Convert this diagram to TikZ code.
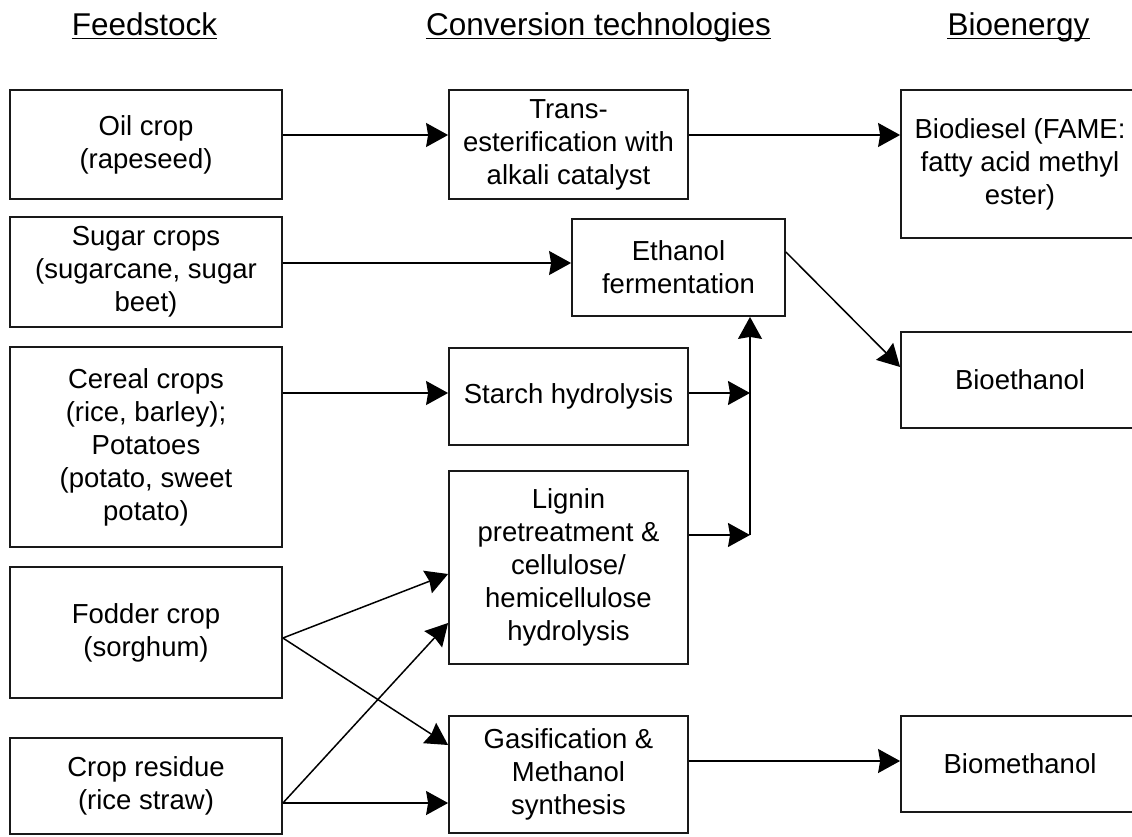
\documentclass[tikz,border=0pt]{standalone}
\usepackage{fontspec}
\setmainfont{Liberation Sans}
\usetikzlibrary{arrows.meta}
\begin{document}
\begin{tikzpicture}[x=1pt,y=-1pt,
  box/.style={draw=black!90, line width=1.8pt, align=center, inner sep=0pt,
    font=\fontsize{27.5}{33}\selectfont},
  feed/.style={box, minimum width=272pt},
  tech/.style={box, minimum width=239pt},
  prod/.style={box, minimum width=238pt},
  head/.style={inner sep=0pt, anchor=base, font=\fontsize{31.5}{36}\selectfont},
  uline/.style={line width=1.8pt},
  arr/.style={line width=1.5pt, -{Stealth[length=22pt,width=24pt,inset=2pt]}}]
\useasboundingbox (0,0) rectangle (1132,836);
\clip (0,0) rectangle (1132,836);

% column headings
\node[head] (hf) at (144.5,35) {Feedstock};
\node[head] (hc) at (598.5,35) {Conversion technologies};
\node[head] (hb) at (1018.5,35) {Bioenergy};
\foreach \h in {hf,hc,hb}
  \draw[uline] ([yshift=-3.5pt]\h.base west) -- ([yshift=-3.5pt]\h.base east);

% feedstock
\node[feed, minimum height=109pt] (oil) at (146,144.5) {Oil crop\\(rapeseed)};
\node[feed, minimum height=110pt] (sugar) at (146,272) {Sugar crops\\(sugarcane, sugar\\beet)};
\node[feed, minimum height=200pt] (cereal) at (146,447) {Cereal crops\\(rice, barley);\\Potatoes\\(potato, sweet\\potato)};
\node[feed, minimum height=131pt] (fodder) at (146,632.5) {Fodder crop\\(sorghum)};
\node[feed, minimum height=96pt] (residue) at (146,786) {Crop residue\\(rice straw)};

% conversion technologies
\node[tech, minimum height=109pt] (trans) at (568.5,144.5) {Trans-\\esterification with\\alkali catalyst};
\node[box, minimum width=213pt, minimum height=97pt] (ferm) at (678.5,267.5) {Ethanol\\fermentation};
\node[tech, minimum height=97pt] (starch) at (568.5,396.5) {Starch hydrolysis};
\node[tech, minimum height=193pt] (lignin) at (568.5,567.5) {Lignin\\pretreatment \&\\cellulose/\\hemicellulose\\hydrolysis};
\node[tech, minimum height=117pt] (gas) at (568.5,774.5) {Gasification \&\\Methanol\\synthesis};

% bioenergy
\node[prod, minimum height=148pt] (diesel) at (1020,164) {Biodiesel (FAME:\\fatty acid methyl\\ester)};
\node[prod, minimum height=96pt] (ethanol) at (1020,380) {Bioethanol};
\node[prod, minimum height=96pt] (methanol) at (1020,764) {Biomethanol};

% junction points on the shared line into fermentation
\coordinate (jstarch) at (750,393);
\coordinate (jlignin) at (750,535);

% connectors
\draw[arr] ([yshift=9.5pt]oil.east) -- ([yshift=9.5pt]trans.west);
\draw[arr] ([yshift=9.5pt]trans.east) -- ([yshift=29pt]diesel.west);
\draw[arr] ([yshift=9pt]sugar.east) -- ([yshift=4.5pt]ferm.west);
\draw[arr] ([yshift=54pt]cereal.east) -- ([yshift=3.5pt]starch.west);
\draw[arr] ([yshift=3.5pt]starch.east) -- (jstarch);
\draw[arr] ([yshift=32.5pt]lignin.east) -- (jlignin);
\draw[arr] (jlignin) -- (jlignin |- ferm.south);
\draw[arr] ([yshift=15.5pt]ferm.east) -- ([yshift=13pt]ethanol.west);
\draw[arr] ([yshift=-5.5pt]fodder.east) -- ([yshift=-6.5pt]lignin.west);
\draw[arr] ([yshift=-5.5pt]fodder.east) -- ([yshift=29.5pt]gas.west);
\draw[arr] ([yshift=-17pt]residue.east) -- ([yshift=-55.5pt]lignin.west);
\draw[arr] ([yshift=-17pt]residue.east) -- ([yshift=-28.5pt]gas.west);
\draw[arr] ([yshift=13.5pt]gas.east) -- ([yshift=3pt]methanol.west);
\end{tikzpicture}
\end{document}
